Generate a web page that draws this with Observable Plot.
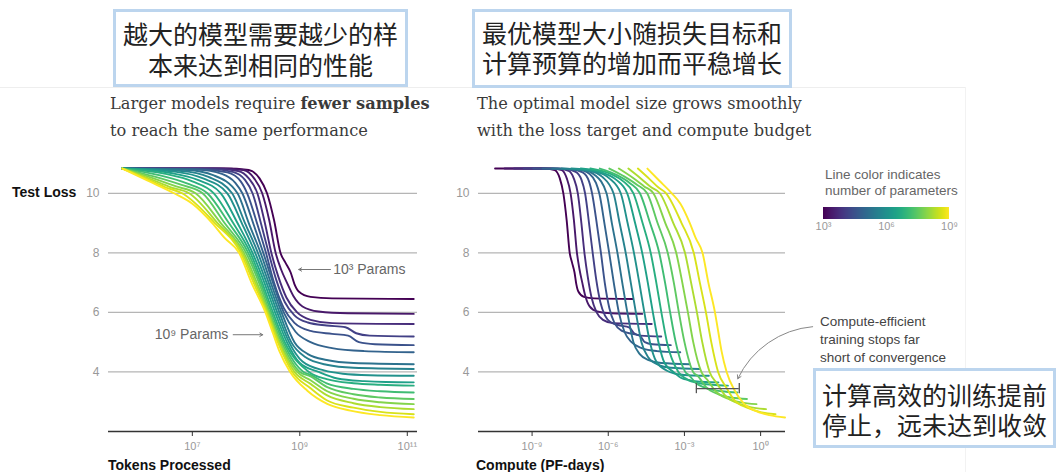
<!DOCTYPE html>
<html>
<head>
<meta charset="utf-8">
<script src="https://cdn.jsdelivr.net/npm/d3@7"></script>
<script src="https://cdn.jsdelivr.net/npm/@observablehq/plot@0.6"></script>
<style>
  html, body { margin: 0; padding: 0; background: #fff; }
  #root { position: relative; width: 1056px; height: 472px; overflow: hidden; background: #fff; }
  .abs { position: absolute; white-space: nowrap; }
  .box { position: absolute; border: 3px solid #bcd5ee; box-sizing: border-box; background: #fff; }
  .cn { font-family: "Liberation Sans", "Noto Sans CJK SC", sans-serif; font-size: 25px; line-height: 25px; height: 25px; color: #222; text-align: center; }
  .en { font-family: "DejaVu Serif", serif; font-size: 16.2px; color: #3a3a3a; line-height: 27px; }
  .sans { font-family: "Liberation Sans", Arial, sans-serif; }
  .axt { font-weight: bold; font-size: 14px; color: #111; }
  .note { font-size: 13.5px; color: #555; line-height: 16px; }
  .frameH { position: absolute; left: 0; top: 87px; width: 965px; height: 1px; background: #eeeeee; }
  .frameV { position: absolute; left: 965px; top: 87px; width: 1px; height: 385px; background: #f2f2f2; }
</style>
</head>
<body>
<div id="root">
  <div class="frameH"></div>
  <div class="frameV"></div>
</div>
<script>
// ---- data ----
// log10 of model size (parameters) for each training run, smallest (purple) to largest (yellow)
const paramsLog = [3.0, 3.375, 3.75, 4.125, 4.5, 4.875, 5.25, 5.625, 6.0, 6.375, 6.75, 7.125, 7.5, 7.875, 8.25, 8.625, 9.0];

// each run: [log10 tokens processed, test loss]
const run01 = [[5.7,10.83],[7.6,10.83],[8.05,10.78],[8.25,10.5],[8.39,10.0],[8.52,9.1],[8.64,8.0],[8.73,7.68],[8.83,7.34],[8.9,6.95],[8.98,6.7],[9.2,6.52],[9.6,6.47],[11.12,6.45]];
const run02 = [[5.7,10.83],[7.5,10.83],[7.95,10.78],[8.15,10.5],[8.3,10.0],[8.43,9.1],[8.55,8.0],[8.65,7.45],[8.76,7.0],[8.88,6.55],[9.05,6.2],[9.35,6.03],[9.9,5.97],[11.12,5.95]];
const run03 = [[5.7,10.83],[7.4,10.83],[7.85,10.75],[8.05,10.5],[8.21,10.0],[8.35,9.0],[8.47,8.0],[8.6,7.2],[8.75,6.5],[8.95,6.0],[9.2,5.75],[9.6,5.64],[11.12,5.61]];
const run04 = [[5.7,10.83],[7.3,10.82],[7.75,10.72],[7.98,10.45],[8.12,10.0],[8.29,8.9],[8.42,8.0],[8.56,7.1],[8.72,6.35],[8.9,5.9],[9.15,5.66],[9.5,5.56],[9.85,5.5],[10.05,5.3],[10.3,5.22],[11.12,5.19]];
const run05 = [[5.7,10.83],[7.2,10.8],[7.65,10.7],[7.9,10.4],[8.02,10.0],[8.22,8.9],[8.37,8.0],[8.52,7.0],[8.7,6.15],[8.9,5.65],[9.2,5.38],[9.6,5.28],[9.9,5.22],[10.1,5.0],[10.4,4.93],[11.12,4.9]];
const run06 = [[5.7,10.83],[7.1,10.8],[7.55,10.65],[7.8,10.35],[7.93,10.0],[8.15,8.9],[8.32,8.0],[8.5,7.0],[8.7,6.0],[8.92,5.35],[9.2,5.0],[9.6,4.8],[10.2,4.7],[11.12,4.66]];
const run07 = [[5.7,10.83],[6.9,10.78],[7.4,10.6],[7.84,10.0],[8.05,9.0],[8.27,8.0],[8.46,7.0],[8.66,6.0],[8.9,5.0],[9.15,4.6],[9.5,4.4],[10.0,4.3],[11.12,4.26]];
const run08 = [[5.7,10.83],[6.8,10.75],[7.3,10.55],[7.74,10.0],[7.98,9.0],[8.22,8.0],[8.42,7.0],[8.62,6.0],[8.84,5.0],[9.1,4.5],[9.5,4.24],[10.0,4.14],[11.12,4.1]];
const run09 = [[5.7,10.83],[6.7,10.72],[7.2,10.5],[7.65,10.0],[7.92,9.0],[8.17,8.0],[8.38,7.0],[8.58,6.0],[8.8,5.0],[9.05,4.35],[9.45,4.05],[9.8,3.94],[10.3,3.89],[11.12,3.87]];
const run10 = [[5.7,10.83],[6.6,10.68],[7.1,10.45],[7.53,10.0],[7.84,9.0],[8.12,8.0],[8.34,7.0],[8.54,6.0],[8.76,5.0],[9.0,4.3],[9.35,4.0],[9.7,3.78],[10.2,3.69],[10.6,3.66],[11.12,3.65]];
const run11 = [[5.7,10.83],[6.5,10.65],[7.0,10.4],[7.4,10.0],[7.76,9.0],[8.08,8.0],[8.3,7.0],[8.5,6.0],[8.72,5.0],[9.17,4.0],[9.5,3.76],[10.0,3.62],[10.5,3.57],[11.12,3.54]];
const run12 = [[5.7,10.83],[6.4,10.6],[6.9,10.33],[7.28,10.0],[7.68,9.0],[8.04,8.0],[8.27,7.0],[8.47,6.0],[8.69,5.0],[9.07,4.0],[9.2,3.9],[9.5,3.62],[10.0,3.43],[10.5,3.35],[11.12,3.31]];
const run13 = [[5.7,10.83],[6.3,10.56],[6.8,10.28],[7.19,10.0],[7.6,9.0],[8.0,8.0],[8.24,7.0],[8.44,6.0],[8.66,5.0],[9.0,4.0],[9.2,3.85],[9.5,3.5],[10.0,3.25],[10.5,3.14],[11.12,3.09]];
const run14 = [[5.7,10.83],[6.25,10.52],[6.7,10.23],[7.06,10.0],[7.53,9.0],[7.96,8.0],[8.2,7.0],[8.42,6.0],[8.63,5.0],[8.95,4.0],[9.2,3.72],[9.5,3.36],[10.0,3.1],[10.5,2.98],[11.12,2.92]];
const run15 = [[5.7,10.83],[6.2,10.49],[6.6,10.2],[6.94,10.0],[7.47,9.0],[7.93,8.0],[8.17,7.0],[8.4,6.0],[8.61,5.0],[8.9,4.0],[9.2,3.6],[9.5,3.22],[10.0,2.95],[10.5,2.82],[11.12,2.75]];
const run16 = [[5.7,10.83],[6.18,10.46],[6.5,10.2],[6.81,10.0],[7.42,9.0],[7.9,8.0],[8.14,7.0],[8.38,6.0],[8.59,5.0],[8.86,4.0],[9.2,3.45],[9.5,3.05],[10.0,2.8],[10.5,2.66],[11.12,2.58]];
const run17 = [[5.7,10.83],[6.16,10.43],[6.66,10.0],[7.0,9.65],[7.37,9.0],[7.6,8.5],[7.87,8.0],[8.1,7.0],[8.36,6.0],[8.5,5.3],[8.62,4.7],[8.82,4.0],[9.14,3.37],[9.51,2.93],[9.94,2.7],[10.5,2.55],[11.12,2.47]];

// tick values
const lossTicks = [4, 6, 8, 10];
const tokenTicks = [1e7, 1e9, 1e11];
const computeTicks = [1e-9, 1e-6, 1e-3, 1e0];
const legendTicks = [1e3, 1e6, 1e9];

// compute in PF-days = 6 FLOPs per parameter per token / (1e15 * 86400) FLOPs per PF-day
const FLOP_PER_PF_DAY = 8.64e19;

const runs = [run01, run02, run03, run04, run05, run06, run07, run08, run09, run10, run11, run12, run13, run14, run15, run16, run17];
const rows = runs.flatMap((run, i) => run.map(([lt, loss]) => {
  const N = 10 ** paramsLog[i], D = 10 ** lt;
  return {run: i, params: N, tokens: D, compute: 6 * N * D / FLOP_PER_PF_DAY, loss};
}));

const supMap = {"-":"⁻","0":"⁰","1":"¹","2":"²","3":"³","4":"⁴","5":"⁵","6":"⁶","7":"⁷","8":"⁸","9":"⁹"};
const sup = n => "10" + String(Math.round(Math.log10(n))).split("").map(c => supMap[c]).join("");

const colorOpts = {type: "log", scheme: "viridis", domain: [1e3, 1e9]};
const FONT = "'Liberation Sans', Arial, sans-serif";

const root = document.getElementById("root");
function place(el, left, top) {
  el.style.position = "absolute";
  el.style.left = left + "px";
  el.style.top = top + "px";
  root.appendChild(el);
}

// ---- left panel ----
const left = Plot.plot({
  width: 460, height: 332,
  marginLeft: 108, marginRight: 43, marginTop: 23, marginBottom: 41,
  style: {fontFamily: FONT, background: "transparent", overflow: "visible"},
  x: {type: "log", domain: [10 ** 5.44, 10 ** 11.19]},
  y: {domain: [2, 11]},
  color: colorOpts,
  marks: [
    Plot.ruleY(lossTicks, {stroke: "#b5b5b5", strokeWidth: 1.2}),
    Plot.ruleY([2], {stroke: "#333", strokeWidth: 1.5}),
    Plot.axisX({ticks: tokenTicks, tickFormat: sup, tickSize: 5, tickPadding: 6, label: null, stroke: "#333", fill: "#999", fontSize: 11}),
    Plot.axisY({ticks: lossTicks, tickSize: 0, tickPadding: 9, label: null, fill: "#999", fontSize: 12}),
    Plot.line(rows, {x: "tokens", y: "loss", z: "run", stroke: "params", strokeWidth: 1.9, curve: "monotone-x"}),
    Plot.arrow([0], {x1: 10 ** 9.57, y1: 7.44, x2: 10 ** 8.98, y2: 7.44, stroke: "#777", strokeWidth: 1, headLength: 5}),
    Plot.text(["10³ Params"], {x: 10 ** 9.62, y: 7.44, text: d => d, textAnchor: "start", fill: "#666", fontSize: 14}),
    Plot.arrow([0], {x1: 10 ** 7.76, y1: 5.25, x2: 10 ** 8.31, y2: 5.25, stroke: "#777", strokeWidth: 1, headLength: 5}),
    Plot.text(["10⁹ Params"], {x: 10 ** 7.67, y: 5.25, text: d => d, textAnchor: "end", fill: "#666", fontSize: 14})
  ]
});
place(left, 0, 140);

// ---- right panel ----
const right = Plot.plot({
  width: 380, height: 332,
  marginLeft: 38, marginRight: 35, marginTop: 23, marginBottom: 41,
  style: {fontFamily: FONT, background: "transparent", overflow: "visible"},
  x: {type: "log", domain: [10 ** -11.11, 10 ** 0.98]},
  y: {domain: [2, 11]},
  color: colorOpts,
  marks: [
    Plot.ruleY(lossTicks, {stroke: "#b5b5b5", strokeWidth: 1.2}),
    Plot.ruleY([2], {stroke: "#333", strokeWidth: 1.5}),
    Plot.axisX({ticks: computeTicks, tickFormat: sup, tickSize: 5, tickPadding: 6, label: null, stroke: "#333", fill: "#999", fontSize: 11}),
    Plot.axisY({ticks: lossTicks, tickSize: 0, tickPadding: 9, label: null, fill: "#999", fontSize: 12}),
    Plot.line(rows, {x: "compute", y: "loss", z: "run", stroke: "params", strokeWidth: 1.9, curve: "monotone-x"}),
    Plot.ruleY([0], {y: 3.44, x1: 10 ** -2.53, x2: 10 ** -0.84, stroke: "#555", strokeWidth: 1.3}),
    Plot.ruleX([10 ** -2.53, 10 ** -0.84], {y1: 3.27, y2: 3.61, stroke: "#555", strokeWidth: 1.3}),
    Plot.arrow([0], {x1: 10 ** 2.05, y1: 5.52, x2: 10 ** -0.9, y2: 3.77, bend: -30, stroke: "#888", strokeWidth: 1, headLength: 6})
  ]
});
place(right, 440, 140);

// ---- colour legend ----
const legend = Plot.legend({
  color: colorOpts,
  width: 146, height: 34, marginLeft: 10, marginRight: 10, marginTop: 2, marginBottom: 20,
  ticks: legendTicks, tickFormat: sup, tickSize: 0, label: null,
  style: {fontFamily: FONT, fontSize: "11px", color: "#999", background: "transparent"}
});
legend.querySelectorAll(".tick line").forEach(l => l.remove());
place(legend, 813, 205);

// ---- texts ----
function text(html, cls, l, t, extra) {
  const d = document.createElement("div");
  d.className = "abs " + cls;
  d.innerHTML = html;
  d.style.left = l + "px"; d.style.top = t + "px";
  if (extra) Object.assign(d.style, extra);
  root.appendChild(d);
  return d;
}
function box(l, t, w, h) {
  const b = document.createElement("div");
  b.className = "box";
  Object.assign(b.style, {left: l + "px", top: t + "px", width: w + "px", height: h + "px"});
  root.appendChild(b);
}
box(113, 9, 295, 78);
text("越大的模型需要越少的样", "cn", 113, 23, {width: "295px"});
text("本来达到相同的性能", "cn", 113, 54, {width: "295px"});
box(472, 9, 320, 79);
text("最优模型大小随损失目标和", "cn", 472, 22, {width: "320px"});
text("计算预算的增加而平稳增长", "cn", 472, 52, {width: "320px"});
box(813, 368, 243, 80);
text("计算高效的训练提前", "cn", 813, 384, {width: "243px"});
text("停止，远未达到收敛", "cn", 813, 414, {width: "243px"});

text("Larger models require <b>fewer samples</b><br>to reach the same performance", "en", 110, 90);
text("The optimal model size grows smoothly<br>with the loss target and compute budget", "en", 477, 90);

text("Test Loss", "sans axt", 12, 184);
text("Tokens Processed", "sans axt", 108, 457);
text("Compute (PF-days)", "sans axt", 476, 457);

text("Line color indicates<br>number of parameters", "sans note", 825, 167, {color: "#666"});
text("Compute-efficient<br>training stops far<br>short of convergence", "sans note", 820, 313, {lineHeight: "17.8px", color: "#444"});
</script>
</body>
</html>
